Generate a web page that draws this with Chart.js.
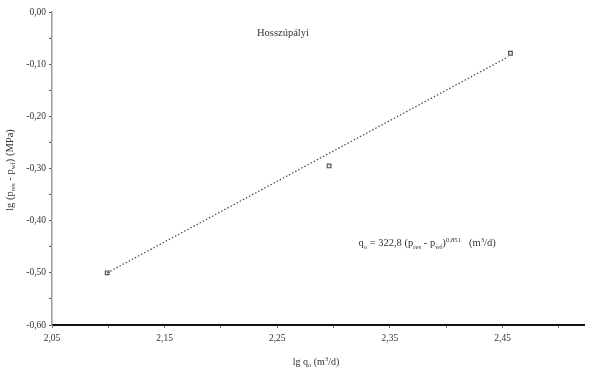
<!DOCTYPE html>
<html>
<head>
<meta charset="utf-8">
<script src="https://cdn.jsdelivr.net/npm/chart.js@4/dist/chart.umd.min.js"></script>
<style>
body{margin:0;background:#fff}
#wrap{width:590px;height:371px}
</style>
</head>
<body>
<div id="wrap"><canvas id="myChart" width="590" height="371"></canvas></div>
<script>
// measured points: lg q (x) vs lg dp (y)
const lgQ = [2.099, 2.296, 2.457]
const lgDp = [-0.50, -0.295, -0.079]
// regression line ends
const fitX = [2.099, 2.455]
const fitY = [-0.50, -0.086]
const xTicks = [2.05, 2.10, 2.15, 2.20, 2.25, 2.30, 2.35, 2.40, 2.45, 2.50]
const xLabels = ['2,05', '', '2,15', '', '2,25', '', '2,35', '', '2,45', '']
const yTicks = [0, -0.05, -0.10, -0.15, -0.20, -0.25, -0.30, -0.35, -0.40, -0.45, -0.50, -0.55, -0.60]
const yLabels = ['0,00', '', '-0,10', '', '-0,20', '', '-0,30', '', '-0,40', '', '-0,50', '', '-0,60']
const fieldName = 'Hosszúpályi'

const FONT = '"Liberation Serif", "DejaVu Serif", serif'
const TXT = '#333'

// draws a list of [text, mode] pieces, mode: n normal, b sub, p sup
function richText(ctx, parts, x, y, size, align){
    ctx.save()
    ctx.textBaseline = 'alphabetic'
    ctx.textAlign = 'left'
    let w = 0
    for(let [t, m] of parts){
        ctx.font = (m == 'n' ? size : size * 0.65) + 'px ' + FONT
        w += ctx.measureText(t).width
    }
    let cx = align == 'center' ? x - w / 2 : x
    for(let [t, m] of parts){
        ctx.font = (m == 'n' ? size : size * 0.65) + 'px ' + FONT
        let dy = m == 'b' ? size * 0.22 : (m == 'p' ? -size * 0.4 : 0)
        ctx.fillStyle = TXT
        ctx.fillText(t, cx, y + dy)
        cx += ctx.measureText(t).width
    }
    ctx.restore()
}

const textPlugin = {
    id: 'texts',
    afterDraw(chart){
        const ctx = chart.ctx
        const xs = chart.scales.x, ys = chart.scales.y
        richText(ctx, [[fieldName, 'n']], xs.getPixelForValue(2.255), ys.getPixelForValue(-0.046), 10.5, 'center')
        richText(ctx, [['q', 'n'], ['o', 'b'], [' = 322,8 (p', 'n'], ['res', 'b'], [' - p', 'n'], ['wf', 'b'], [')', 'n'], ['0,851', 'p'], ['   (m', 'n'], ['3', 'p'], ['/d)', 'n']],
            xs.getPixelForValue(2.322), ys.getPixelForValue(-0.449), 10.5, 'left')
        // x title
        richText(ctx, [['lg q', 'n'], ['o', 'b'], [' (m', 'n'], ['3', 'p'], ['/d)', 'n']], 316, 365, 10, 'center')
        // y title rotated
        ctx.save()
        ctx.translate(13, 170)
        ctx.rotate(-Math.PI / 2)
        richText(ctx, [['lg (p', 'n'], ['res', 'b'], [' - p', 'n'], ['wf', 'b'], [') (MPa)', 'n']], 0, 0, 10.5, 'center')
        ctx.restore()
    }
}

new Chart(document.getElementById('myChart').getContext('2d'), {
    type: 'scatter',
    data: {
        datasets: [
            {
                data: fitX.map((v, i) => ({x: v, y: fitY[i]})),
                showLine: true,
                borderColor: '#444',
                borderWidth: 1.2,
                borderDash: [1.5, 2],
                pointRadius: 0
            },
            {
                data: lgQ.map((v, i) => ({x: v, y: lgDp[i]})),
                pointStyle: 'rect',
                pointRadius: 2.6,
                borderColor: '#555',
                borderWidth: 1.2,
                backgroundColor: '#eee'
            }
        ]
    },
    options: {
        responsive: false,
        animation: false,
        layout: {padding: {top: 12, right: 0, left: 0, bottom: 0}},
        plugins: {legend: {display: false}, tooltip: {enabled: false}},
        scales: {
            x: {
                type: 'linear',
                min: 2.05,
                max: 2.523,
                afterBuildTicks: s => { s.ticks = xTicks.map(v => ({value: v})) },
                afterFit: s => { s.height = 46 },
                border: {color: '#111', width: 2},
                grid: {drawOnChartArea: false, color: '#777', tickLength: 3},
                ticks: {
                    color: TXT,
                    font: {family: FONT, size: 9.5},
                    padding: 5,
                    maxRotation: 0,
                    autoSkip: false,
                    callback: (v, i) => xLabels[i]
                }
            },
            y: {
                type: 'linear',
                min: -0.6,
                max: 0,
                afterBuildTicks: s => { s.ticks = yTicks.map(v => ({value: v})) },
                afterFit: s => { s.width = 52 },
                border: {color: '#999', width: 1.5},
                grid: {drawOnChartArea: false, color: '#555', tickLength: 3},
                ticks: {
                    color: TXT,
                    font: {family: FONT, size: 9.5},
                    padding: 3,
                    autoSkip: false,
                    callback: (v, i) => yLabels[i]
                }
            }
        }
    },
    plugins: [textPlugin]
})
</script>
</body>
</html>
